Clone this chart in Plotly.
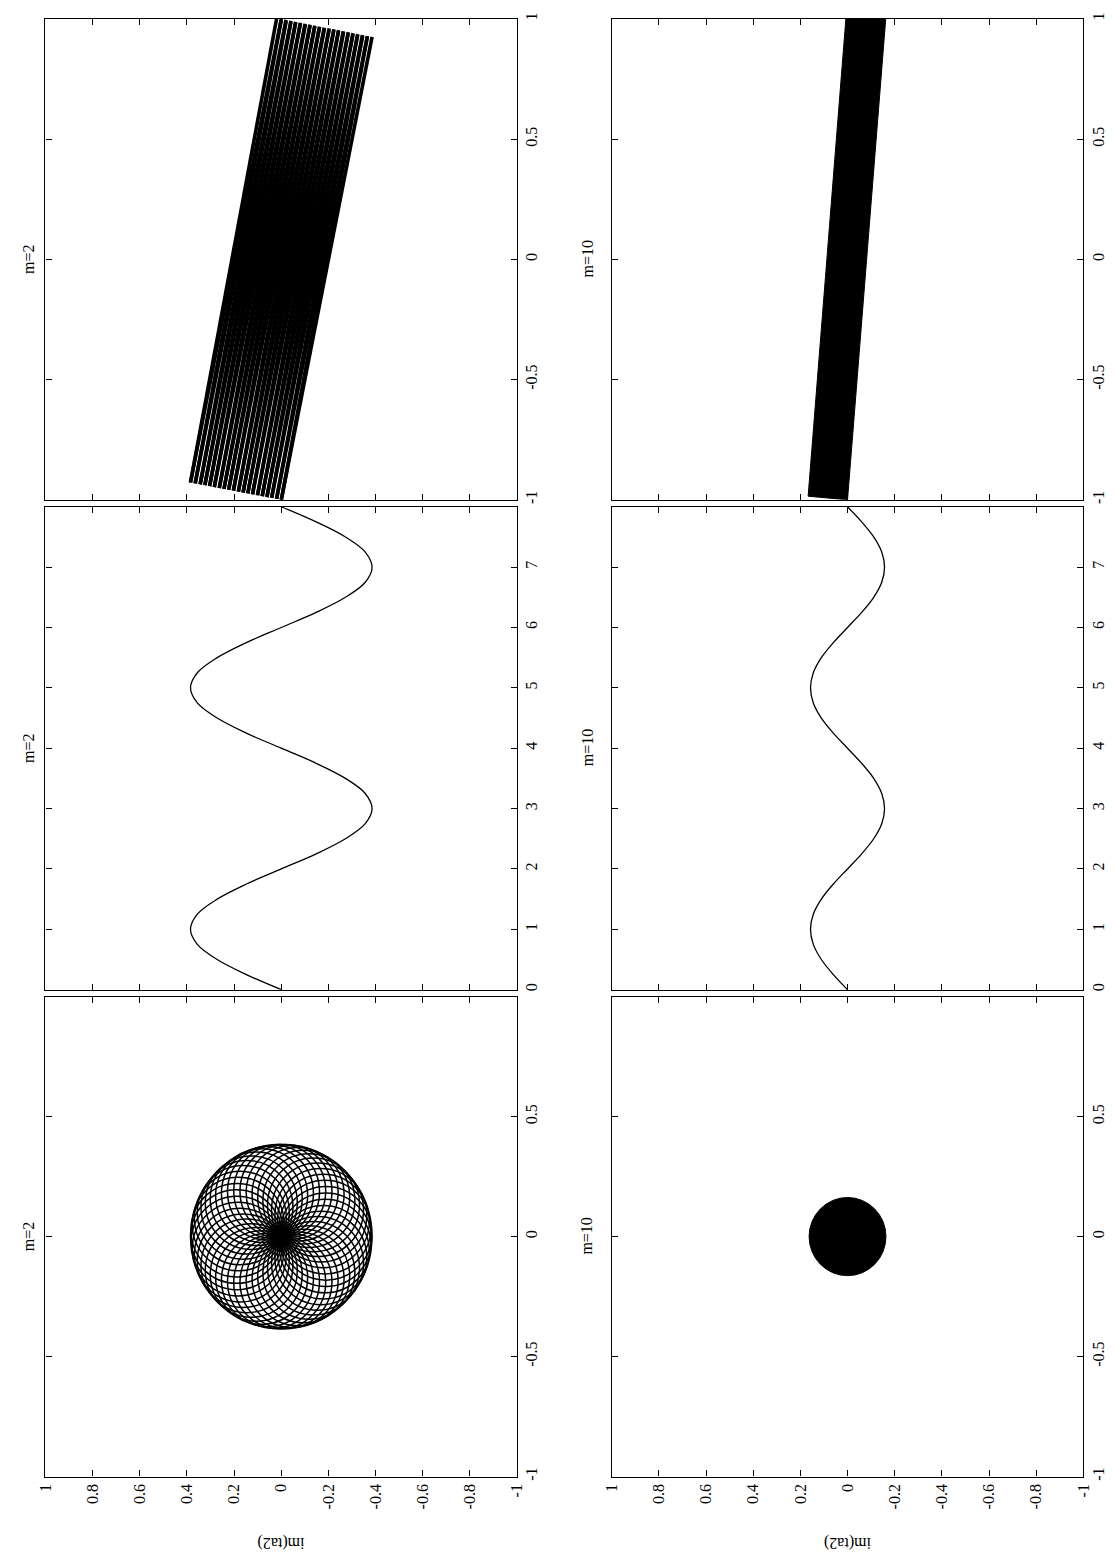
import math
import plotly.graph_objects as go

# ---------------- data ----------------
panel_titles = ["m=2", "m=10"]
y_label = "im(ta2)"

# im(ta2) axis (drawn horizontally, reversed)
im_ticks = [1, 0.8, 0.6, 0.4, 0.2, 0, -0.2, -0.4, -0.6, -0.8, -1]
im_tick_text = ["1", "0.8", "0.6", "0.4", "0.2", "0", "-0.2", "-0.4", "-0.6", "-0.8", "-1"]

band_ticks = [1, 0.5, 0, -0.5, -1]
band_tick_text = ["1", "0.5", "0", "-0.5", "-1"]
time_ticks = [0, 1, 2, 3, 4, 5, 6, 7, 8]
time_tick_text = ["0", "1", "2", "3", "4", "5", "6", "7", ""]
circle_ticks = [1, 0.5, 0, -0.5, -1]
circle_tick_text = ["", "0.5", "0", "-0.5", "-1"]

# time series (quarter steps)
time_t = [0, 0.25, 0.5, 0.75, 1, 1.25, 1.5, 1.75, 2, 2.25, 2.5, 2.75, 3, 3.25, 3.5, 3.75,
          4, 4.25, 4.5, 4.75, 5, 5.25, 5.5, 5.75, 6, 6.25, 6.5, 6.75, 7, 7.25, 7.5, 7.75, 8]
im_m2 = [0, 0.148, 0.272, 0.356, 0.385, 0.356, 0.272, 0.148, 0, -0.148, -0.272, -0.356, -0.385, -0.356, -0.272, -0.148,
         0, 0.148, 0.272, 0.356, 0.385, 0.356, 0.272, 0.148, 0, -0.148, -0.272, -0.356, -0.385, -0.356, -0.272, -0.148, 0]
im_m10 = [0, 0.060, 0.111, 0.145, 0.157, 0.145, 0.111, 0.060, 0, -0.060, -0.111, -0.145, -0.157, -0.145, -0.111, -0.060,
          0, 0.060, 0.111, 0.145, 0.157, 0.145, 0.111, 0.060, 0, -0.060, -0.111, -0.145, -0.157, -0.145, -0.111, -0.060, 0]

# m=2 band of line segments (start near re=-1, end near re=+1)
band2_start_re = [-1.000, -0.996, -0.992, -0.989, -0.985, -0.981, -0.977, -0.973, -0.970, -0.966,
                  -0.962, -0.958, -0.955, -0.951, -0.947, -0.943, -0.939, -0.936, -0.932, -0.928]
band2_start_im = [0.000, 0.020, 0.041, 0.061, 0.081, 0.101, 0.122, 0.142, 0.162, 0.182,
                  0.203, 0.223, 0.243, 0.263, 0.284, 0.304, 0.324, 0.344, 0.365, 0.385]
band2_end_re = [0.925, 0.929, 0.933, 0.937, 0.941, 0.945, 0.949, 0.953, 0.957, 0.961,
                0.964, 0.968, 0.972, 0.976, 0.980, 0.984, 0.988, 0.992, 0.996, 1.000]
band2_end_im_a = [-0.365, -0.345, -0.324, -0.304, -0.284, -0.264, -0.243, -0.223, -0.203, -0.183,
                  -0.162, -0.142, -0.122, -0.102, -0.081, -0.061, -0.041, -0.021, 0.000, 0.020]
band2_end_im_b = [-0.385, -0.365, -0.344, -0.324, -0.304, -0.284, -0.263, -0.243, -0.223, -0.203,
                  -0.182, -0.162, -0.142, -0.122, -0.101, -0.081, -0.061, -0.041, -0.020, 0.000]

# m=10 solid band outline
band10_re = [-1.0, -0.985, 1.0, 1.0, -1.0]
band10_im = [0.0, 0.167, 0.007, -0.162, 0.0]

# m=2 rosette: circles whose centres sit on a ring
rosette_angles_deg = [0, 8, 16, 24, 32, 40, 48, 56, 64, 72, 80, 88, 96, 104, 112, 120, 128, 136, 144,
                      152, 160, 168, 176, 184, 192, 200, 208, 216, 224, 232, 240, 248, 256, 264, 272,
                      280, 288, 296, 304, 312, 320, 328, 336, 344, 352]
rosette_circle_radius = 0.195
rosette_centre_distance = 0.19
# m=10 filled disk
disk_radius = 0.163

# ---------------- layout geometry ----------------
W, H = 1115, 1562
col_dom = [[37 / W, 516 / W], [612 / W, 1091 / W]]
row_px = [(13, 497), (504, 990), (997, 1480)]
row_dom = [[1 - b / H, 1 - t / H] for (t, b) in row_px]

FONT = "Liberation Serif, Times New Roman, serif"
fig = go.Figure()


def ax_names(i):
    s = "" if i == 1 else str(i)
    return "x" + s, "y" + s, "xaxis" + s, "yaxis" + s


layout_axes = {}
idx = 0
panels = {}
for c in range(2):
    for r in range(3):
        idx += 1
        xr, yr, xk, yk = ax_names(idx)
        panels[(c, r)] = (xr, yr)
        common = dict(showline=True, linecolor="black", linewidth=1.3, mirror="allticks",
                      ticks="inside", ticklen=6, tickwidth=1, tickcolor="black",
                      showgrid=False, zeroline=False, fixedrange=True,
                      tickfont=dict(family=FONT, size=16, color="black"), tickangle=-90)
        layout_axes[xk] = dict(common, domain=col_dom[c], anchor=yr, range=[1, -1],
                               tickmode="array", tickvals=im_ticks, ticktext=im_tick_text,
                               showticklabels=(r == 2))
        if r == 0:
            yv, yt, yrange = band_ticks, band_tick_text, [-1, 1]
        elif r == 1:
            yv, yt, yrange = time_ticks, time_tick_text, [0, 8]
        else:
            yv, yt, yrange = circle_ticks, circle_tick_text, [-1, 1]
        layout_axes[yk] = dict(common, domain=row_dom[r], anchor=xr, side="right", range=yrange,
                               tickmode="array", tickvals=yv, ticktext=yt)

# --- band m=2 (col 0, row 0)
xr, yr = panels[(0, 0)]
bx, by = [], []
for ends in (band2_end_im_a, band2_end_im_b):
    for k in range(len(band2_start_im)):
        bx += [band2_start_im[k], ends[k], None]
        by += [band2_start_re[k], band2_end_re[k], None]
fig.add_trace(go.Scatter(x=bx, y=by, mode="lines", line=dict(color="black", width=3.6),
                         xaxis=xr, yaxis=yr, showlegend=False, hoverinfo="skip"))

# --- band m=10 (col 1, row 0)
xr, yr = panels[(1, 0)]
fig.add_trace(go.Scatter(x=band10_im, y=band10_re, mode="lines", fill="toself", fillcolor="black",
                         line=dict(color="black", width=1), xaxis=xr, yaxis=yr,
                         showlegend=False, hoverinfo="skip"))

# --- time curves (row 1)
for c, series in enumerate([im_m2, im_m10]):
    xr, yr = panels[(c, 1)]
    fig.add_trace(go.Scatter(x=series, y=time_t, mode="lines",
                             line=dict(color="black", width=1.3, shape="spline", smoothing=1.0),
                             xaxis=xr, yaxis=yr, showlegend=False, hoverinfo="skip"))

# --- rosette (col 0, row 2) and disk (col 1, row 2)
shapes = []
xr, yr = panels[(0, 2)]
for a in rosette_angles_deg:
    cx = rosette_centre_distance * math.cos(math.radians(a))
    cy = rosette_centre_distance * math.sin(math.radians(a))
    shapes.append(dict(type="circle", xref=xr, yref=yr,
                       x0=cx - rosette_circle_radius, x1=cx + rosette_circle_radius,
                       y0=cy - rosette_circle_radius, y1=cy + rosette_circle_radius,
                       line=dict(color="black", width=1.5)))
xr, yr = panels[(1, 2)]
shapes.append(dict(type="circle", xref=xr, yref=yr, x0=-disk_radius, x1=disk_radius,
                   y0=-disk_radius, y1=disk_radius, fillcolor="black",
                   line=dict(color="black", width=1)))
# empty traces so the bottom axes are drawn
for c in range(2):
    xr, yr = panels[(c, 2)]
    fig.add_trace(go.Scatter(x=[None], y=[None], mode="lines",
                             xaxis=xr, yaxis=yr, showlegend=False, hoverinfo="skip"))

# --- titles and labels
annotations = []
title_x = [20 / W, 587 / W]
for c in range(2):
    for r in range(3):
        t, b = row_px[r]
        annotations.append(dict(text=panel_titles[c], x=title_x[c], y=1 - (t + b) / 2 / H,
                                xref="paper", yref="paper", showarrow=False, textangle=-90,
                                xanchor="center", yanchor="middle",
                                font=dict(family=FONT, size=16, color="black")))
    annotations.append(dict(text=y_label, x=(col_dom[c][0] + col_dom[c][1]) / 2, y=1 - 1547 / H,
                            xref="paper", yref="paper", showarrow=False, textangle=180,
                            xanchor="center", yanchor="middle",
                            font=dict(family=FONT, size=16, color="black")))

fig.update_layout(width=W, height=H, autosize=False, margin=dict(l=0, r=0, t=0, b=0),
                  paper_bgcolor="white", plot_bgcolor="white", shapes=shapes,
                  annotations=annotations, **layout_axes)
fig.write_html("out.html")
